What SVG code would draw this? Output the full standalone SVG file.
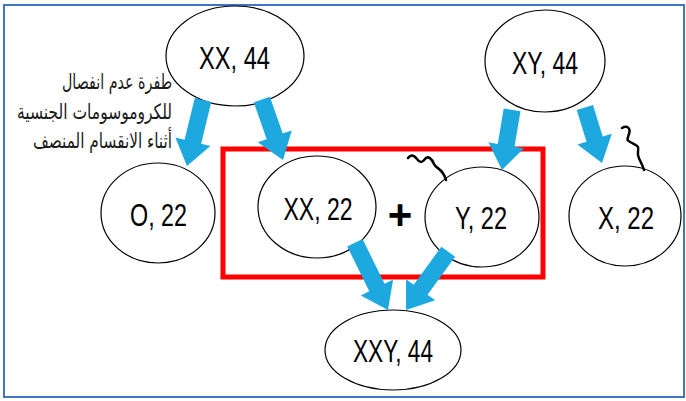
<svg xmlns="http://www.w3.org/2000/svg" width="686" height="401" viewBox="0 0 686 401">
  <style>
    .node ellipse { fill: #ffffff; stroke: #000000; stroke-width: 1.2; }
    .lbl { font-family: "Liberation Sans", Arial, sans-serif; font-size: 32px; fill: #000000; text-anchor: middle; }
    .ar { font-family: "DejaVu Sans", "Noto Sans", sans-serif; font-size: 21px; fill: #1a1a1a; text-anchor: end; }
    .arrow { fill: #1DA8DF; }
    .wave { fill: none; stroke: #000000; stroke-width: 2.5; stroke-linecap: round; }
  </style>
  <defs>
    <!-- arrow head pointing along +x with its tip at the origin -->
    <path id="head" d="M-25,-8.5 L-25,-18 L0,0 L-25,18 L-25,8.5 Z"/>
  </defs>

  <!-- frame -->
  <rect x="4" y="5" width="680" height="392" fill="#ffffff" stroke="#4472C4" stroke-width="2"/>

  <!-- highlighted fertilisation box -->
  <rect x="223" y="149" width="320" height="128" fill="none" stroke="#FF0000" stroke-width="5"/>

  <g id="nodes">
    <g id="n-xx44" class="node">
      <ellipse cx="235" cy="56" rx="69" ry="50"/>
      <text class="lbl" x="234.5" y="69" textLength="71" lengthAdjust="spacingAndGlyphs">XX, 44</text>
    </g>
    <g id="n-xy44" class="node">
      <ellipse cx="545" cy="61" rx="60" ry="51"/>
      <text class="lbl" x="545" y="74" textLength="66" lengthAdjust="spacingAndGlyphs">XY, 44</text>
    </g>
    <g id="n-o22" class="node">
      <ellipse cx="158" cy="213" rx="57" ry="50"/>
      <text class="lbl" x="158.5" y="226" textLength="57" lengthAdjust="spacingAndGlyphs">O, 22</text>
    </g>
    <g id="n-xx22" class="node">
      <ellipse cx="317" cy="207" rx="59" ry="51"/>
      <text class="lbl" x="318" y="220" textLength="69" lengthAdjust="spacingAndGlyphs">XX, 22</text>
    </g>
    <g id="n-y22" class="node">
      <ellipse cx="482" cy="217" rx="57" ry="50"/>
      <text class="lbl" x="481" y="229" textLength="52" lengthAdjust="spacingAndGlyphs">Y, 22</text>
    </g>
    <g id="n-x22" class="node">
      <ellipse cx="625" cy="216" rx="56" ry="50"/>
      <text class="lbl" x="626" y="229" textLength="56" lengthAdjust="spacingAndGlyphs">X, 22</text>
    </g>
    <g id="n-xxy44" class="node">
      <ellipse cx="393" cy="350" rx="68" ry="40"/>
      <text class="lbl" x="393" y="362" textLength="80" lengthAdjust="spacingAndGlyphs">XXY, 44</text>
    </g>
  </g>

  <!-- plus sign between the gametes -->
  <text x="400" y="229" font-family="Liberation Sans, Arial, sans-serif" font-size="42" font-weight="bold" text-anchor="middle">+</text>

  <g id="connectors" class="arrow">
    <g transform="translate(187,166) rotate(103.6)"><rect x="-68" y="-8.5" width="44" height="17"/><use href="#head"/></g>
    <g transform="translate(283,160) rotate(70.7)"><rect x="-64" y="-8.5" width="40" height="17"/><use href="#head"/></g>
    <g transform="translate(502,170) rotate(99.5)"><rect x="-61" y="-8.5" width="37" height="17"/><use href="#head"/></g>
    <g transform="translate(602,163) rotate(72.8)"><rect x="-58" y="-8.5" width="34" height="17"/><use href="#head"/></g>
    <g transform="translate(388,310) rotate(63.8)"><rect x="-75" y="-8.5" width="51" height="17"/><use href="#head"/></g>
    <g transform="translate(406,310) rotate(125.9)"><rect x="-72" y="-8.5" width="48" height="17"/><use href="#head"/></g>
  </g>

  <!-- chromosome squiggles -->
  <path class="wave" d="M408,158 c3,-4 6,-3 9,1 s5,4 8,0 s7,0 9,5 s9,4 12,16"/>
  <path class="wave" d="M622,128 c5,-3 9,0 7,6 s-3,6 3,9 s7,3 6,9 s3,8 6,18"/>

  <!-- annotation -->
  <g id="note">
    <text class="ar" x="172" y="89" textLength="110" lengthAdjust="spacingAndGlyphs">طفرة عدم انفصال</text>
    <text class="ar" x="172" y="119" textLength="155" lengthAdjust="spacingAndGlyphs">للكروموسومات الجنسية</text>
    <text class="ar" x="172" y="148" textLength="139" lengthAdjust="spacingAndGlyphs">أثناء الانقسام المنصف</text>
  </g>
</svg>
